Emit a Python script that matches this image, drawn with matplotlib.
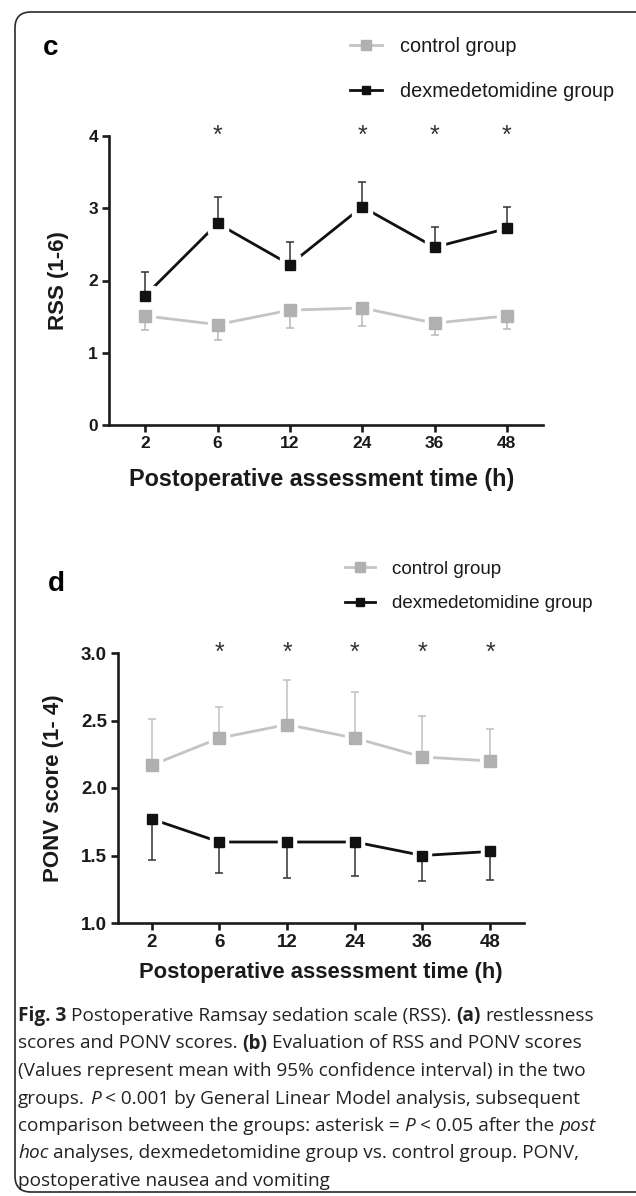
import matplotlib
matplotlib.use("Agg")
import matplotlib.pyplot as plt
from matplotlib.lines import Line2D
from matplotlib.patches import FancyBboxPatch
import numpy as np

# データ
time_labels = ["2", "6", "12", "24", "36", "48"]

rss_control = [1.51, 1.39, 1.59, 1.62, 1.41, 1.51]
rss_control_low = [1.31, 1.18, 1.34, 1.37, 1.24, 1.33]
rss_dex = [1.79, 2.79, 2.22, 3.02, 2.46, 2.72]
rss_dex_high = [2.12, 3.15, 2.53, 3.37, 2.74, 3.02]
rss_star = [1, 3, 4, 5]

ponv_control = [2.17, 2.37, 2.47, 2.37, 2.23, 2.20]
ponv_control_high = [2.51, 2.60, 2.80, 2.71, 2.53, 2.44]
ponv_dex = [1.77, 1.60, 1.60, 1.60, 1.50, 1.53]
ponv_dex_low = [1.47, 1.37, 1.33, 1.35, 1.31, 1.32]
ponv_star = [1, 2, 3, 4, 5]

caption_lines = [
    [("Fig. 3", "b"), (" Postoperative Ramsay sedation scale (RSS). ", "n"), ("(a)", "b"), (" restlessness", "n")],
    [("scores and PONV scores. ", "n"), ("(b)", "b"), (" Evaluation of RSS and PONV scores", "n")],
    [("(Values represent mean with 95% confidence interval) in the two", "n")],
    [("groups. ", "n"), ("P", "i"), (" < 0.001 by General Linear Model analysis, subsequent", "n")],
    [("comparison between the groups: asterisk = ", "n"), ("P", "i"), (" < 0.05 after the ", "n"), ("post", "i")],
    [("hoc", "i"), (" analyses, dexmedetomidine group vs. control group. PONV,", "n")],
    [("postoperative nausea and vomiting", "n")],
]

W, H = 636, 1196
CTRL_MARK = "#b0b0b0"
CTRL_LINE = "#c4c4c4"
DEX = "#111111"

plt.rcParams['font.family'] = ['Liberation Sans', 'DejaVu Sans']


def px_rect(left, top, right, bottom):
    """ピクセル座標から axes の位置を計算"""
    return [left / W, 1 - bottom / H, (right - left) / W, (bottom - top) / H]


def style_axes(ax, ylim, yticks, yfmt, tick_size):
    x = np.arange(len(time_labels))
    ax.set_xlim(-0.5, len(time_labels) - 0.5)
    ax.set_ylim(*ylim)
    ax.set_xticks(x)
    ax.set_xticklabels(time_labels)
    ax.set_yticks(yticks)
    ax.set_yticklabels([yfmt.format(v) for v in yticks])
    for side in ['top', 'right']:
        ax.spines[side].set_visible(False)
    for side in ['left', 'bottom']:
        ax.spines[side].set_linewidth(1.9)
        ax.spines[side].set_color('#1a1a1a')
    ax.tick_params(width=1.9, length=5, color='#1a1a1a', labelsize=tick_size, pad=3)
    for lab in ax.get_xticklabels() + ax.get_yticklabels():
        lab.set_fontweight('bold')
        lab.set_color('#1a1a1a')


def draw_series(ax, y, err, err_up, color_line, color_mark, msize, ecolor):
    x = np.arange(len(y))
    y = np.array(y)
    e = np.abs(np.array(err) - y)
    yerr = [np.zeros_like(e), e] if err_up else [e, np.zeros_like(e)]
    ax.plot(x, y, color=color_line, lw=2.0, zorder=2, clip_on=False)
    # GraphPad風に線とマーカーの間に隙間をつくる
    ax.plot(x, y, ls='none', marker='s', markersize=msize + 7, color='white', zorder=3, clip_on=False)
    ax.errorbar(x, y, yerr=yerr, fmt='none', ecolor=ecolor, elinewidth=1.1, capsize=3, capthick=1.1,
                zorder=4, clip_on=False)
    ax.plot(x, y, ls='none', marker='s', markersize=msize, color=color_mark, zorder=5, clip_on=False)


fig = plt.figure(figsize=(W / 100, H / 100), dpi=100)

# 外枠
box = FancyBboxPatch((15 / W, 1 - 1192 / H), 660 / W, 1180 / H,
                     boxstyle="round,pad=0,rounding_size=0.025", transform=fig.transFigure,
                     fill=False, lw=1.2, ec='#2a2a2a', mutation_aspect=W / H)
fig.patches.append(box)

# ---- パネル c ----
ax1 = fig.add_axes(px_rect(109, 136, 543, 425))
draw_series(ax1, rss_control, rss_control_low, False, CTRL_LINE, CTRL_MARK, 8, "#b8b8b8")
draw_series(ax1, rss_dex, rss_dex_high, True, DEX, DEX, 7, "#333333")
style_axes(ax1, (0, 4), [0, 1, 2, 3, 4], "{:d}", 12.5)
ax1.set_ylabel('RSS (1-6)', fontsize=16, fontweight='bold', color='#1a1a1a', labelpad=14)
ax1.set_xlabel('Postoperative assessment time (h)', fontsize=16.8, fontweight='bold', color='#1a1a1a',
               labelpad=12)
ax1.xaxis.label.set_x(0.49)
for i in rss_star:
    ax1.text(i, 4, '*', ha='center', va='center', fontsize=18, color='#333333')

fig.text(51 / W, 1 - 48 / H, 'c', fontsize=20, fontweight='bold', ha='center', va='center')
h_ctrl = Line2D([], [], color=CTRL_LINE, lw=2, marker='s', markersize=7, mfc=CTRL_MARK, mec=CTRL_MARK)
h_dex = Line2D([], [], color=DEX, lw=2, marker='s', markersize=6, mfc=DEX, mec=DEX)
fig.legend([h_ctrl, h_dex], ['control group', 'dexmedetomidine group'], loc='upper left',
           bbox_to_anchor=(340 / W, 1 - 27 / H), frameon=False, fontsize=14.3, handlelength=1.6,
           handletextpad=0.9, labelspacing=1.3, borderpad=0, labelcolor='#1a1a1a')

# ---- パネル d ----
ax2 = fig.add_axes(px_rect(118, 653, 524, 923))
draw_series(ax2, ponv_control, ponv_control_high, True, CTRL_LINE, CTRL_MARK, 8, "#c0c0c0")
draw_series(ax2, ponv_dex, ponv_dex_low, False, DEX, DEX, 6.5, "#333333")
style_axes(ax2, (1, 3), [1.0, 1.5, 2.0, 2.5, 3.0], "{:.1f}", 13.5)
ax2.set_ylabel('PONV score (1- 4)', fontsize=16, fontweight='bold', color='#1a1a1a', labelpad=12)
ax2.set_xlabel('Postoperative assessment time (h)', fontsize=15.8, fontweight='bold', color='#1a1a1a',
               labelpad=8)
for i in ponv_star:
    ax2.text(i, 3, '*', ha='center', va='center', fontsize=18, color='#333333')

fig.text(56 / W, 1 - 584 / H, 'd', fontsize=20, fontweight='bold', ha='center', va='center')
fig.legend([h_ctrl, h_dex], ['control group', 'dexmedetomidine group'], loc='upper left',
           bbox_to_anchor=(336 / W, 1 - 551 / H), frameon=False, fontsize=13.5, handlelength=1.6,
           handletextpad=0.9, labelspacing=0.95, borderpad=0, labelcolor='#1a1a1a')

# ---- キャプション ----
renderer = fig.canvas.get_renderer()
cap_size = 13.7
styles = {"n": dict(weight='normal', style='normal'),
          "b": dict(weight='bold', style='normal'),
          "i": dict(weight='normal', style='italic')}


def text_width(s, st):
    t = fig.text(0, 0, s, fontsize=cap_size, family='Open Sans', **styles[st])
    w = t.get_window_extent(renderer).width
    t.remove()
    return w


space_w = text_width("a a", "n") - text_width("aa", "n")
for k, line in enumerate(caption_lines):
    y = 1016 + 27.5 * k
    cur = 18
    for s, st in line:
        lead = len(s) - len(s.lstrip(' '))
        trail = len(s) - len(s.rstrip(' '))
        cur += lead * space_w
        core = s.strip(' ')
        t = fig.text(cur / W, 1 - y / H, core, fontsize=cap_size, family='Open Sans', va='center',
                     color='#222222', **styles[st])
        cur += t.get_window_extent(renderer).width + trail * space_w

fig.savefig('out.png', dpi=100)
